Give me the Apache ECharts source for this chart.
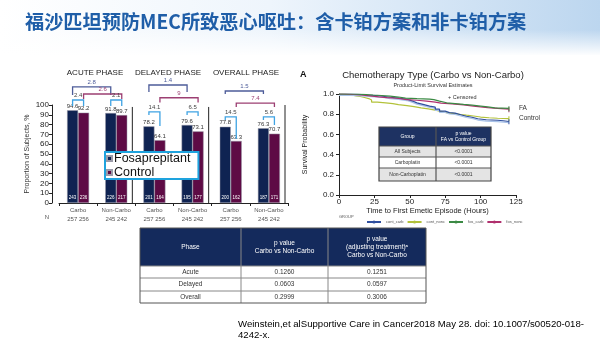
<!DOCTYPE html>
<html><head><meta charset="utf-8">
<script src="https://cdn.jsdelivr.net/npm/echarts@6/dist/echarts.min.js"></script>
<style>html,body{margin:0;padding:0;background:#fff}#c{width:600px;height:338px}</style>
</head><body><div id="c"></div>
<script>
// ---------------- data ----------------
const slideTitle = '福沙匹坦预防MEC所致恶心呕吐：含卡铂方案和非卡铂方案';
const phases = ['ACUTE PHASE', 'DELAYED PHASE', 'OVERALL PHASE'];
const categories = ['Carbo', 'Non-Carbo', 'Carbo', 'Non-Carbo', 'Carbo', 'Non-Carbo'];
const nLabels = ['257 256', '245 242', '257 256', '245 242', '257 256', '245 242'];
const fosaValues = [94.6, 91.8, 78.2, 79.6, 77.8, 76.3];
const controlValues = [92.2, 89.7, 64.1, 73.1, 63.3, 70.7];
const fosaCounts = [243, 226, 201, 195, 200, 187];
const controlCounts = [236, 217, 164, 177, 162, 171];
const fosaDiffs = ['2.8', '1.4', '1.5'];
const controlDiffs = ['2.6', '9', '7.4'];
const withinDiffs = ['2.4', '2.1', '14.1', '6.5', '14.5', '5.6'];
const barTicks = [0, 10, 20, 30, 40, 50, 60, 70, 80, 90, 100];

const kmContNonc = [[0,1],[3,0.995],[6,0.99],[9,0.98],[12,0.975],[15,0.965],[18,0.955],[21,0.94],[23,0.92],[27,0.912],[33,0.905],[38,0.895],[42,0.885],[48,0.875],[53,0.862],[58,0.852],[63,0.84],[68,0.83],[71,0.815],[76,0.805],[82,0.797],[86,0.79],[90,0.782],[95,0.772],[100,0.765],[106,0.76],[112,0.757],[120,0.755]];
const kmContCarb = [[0,1],[8,0.997],[14,0.99],[20,0.985],[26,0.978],[31,0.968],[36,0.96],[42,0.948],[48,0.93],[52,0.912],[55,0.895],[60,0.88],[64,0.87],[68,0.85],[71,0.83],[75,0.815],[78,0.81],[82,0.795],[86,0.78],[90,0.77],[94,0.755],[98,0.745],[104,0.74],[112,0.735],[116,0.728],[120,0.725]];
const kmFosCarb = [[0,1],[10,0.997],[17,0.99],[24,0.985],[30,0.978],[36,0.97],[42,0.96],[47,0.955],[55,0.95],[64,0.945],[67,0.93],[71,0.913],[76,0.905],[82,0.897],[88,0.89],[94,0.88],[100,0.872],[105,0.863],[110,0.858],[120,0.855]];
const kmFosNonc = [[0,1],[5,0.995],[10,0.99],[16,0.982],[22,0.972],[28,0.965],[34,0.958],[41,0.945],[48,0.938],[55,0.93],[62,0.92],[68,0.91],[72,0.902],[80,0.893],[88,0.88],[95,0.872],[100,0.865],[105,0.857],[112,0.85],[120,0.845]];
const kmXTicks = [0, 25, 50, 75, 100, 125];
const kmYTicks = [0, 0.2, 0.4, 0.6, 0.8, 1.0];

const kmGroups = ['All Subjects', 'Carboplatin', 'Non-Carboplatin'];
const kmPValues = ['<0.0001', '<0.0001', '<0.0001'];

const phaseRows = ['Acute', 'Delayed', 'Overall'];
const pCarbo = ['0.1260', '0.0603', '0.2999'];
const pAdjusted = ['0.1251', '0.0597', '0.3006'];
const citation1 = 'Weinstein,et alSupportive Care in Cancer2018 May 28. doi: 10.1007/s00520-018-';
const citation2 = '4242-x.';

// ---------------- layout for annotations (data-unit levels) ----------------
const fosaBracketTop = [118.4, 120.4, 114.3];
const fosaBracketFoot = [110.2, 113.3, 111.2];
const ctrlBracketTop = [111.2, 107.4, 102];
const ctrlBracketFoot = [106.1, 102.6, 98];
const withinTop = [105.1, 105.1, 92.9, 92.9, 87.8, 87.8];
const withinFootL = [99, 99, 89.8, 89.8, 84.7, 84.7];
const withinFootR = [99, 99, 78.6, 88.8, 65.3, 79.6];

const BAR_W = 11;
const NAVY = '#0f2352', MAROON = '#5e0b45';
const FONT = 'Liberation Sans, Arial, sans-serif';

function barX(api, cat, side) { return api.coord([cat, 0])[0] + side * BAR_W / 2; }
function bracketGroup(api, x1, x2, top, footL, footR, color, label, textColor) {
  const pt = api.coord([0, top])[1];
  const pl = api.coord([0, footL])[1];
  const pr = api.coord([0, footR])[1];
  return { type: 'group', children: [
    { type: 'polyline', shape: { points: [[x1, pl], [x1, pt], [x2, pt], [x2, pr]] },
      style: { stroke: color, lineWidth: 1.3, fill: null } },
    { type: 'text', style: { x: (x1 + x2) / 2, y: pt - 1.5, text: label, fill: textColor,
      fontSize: 6, fontFamily: FONT, align: 'center', verticalAlign: 'bottom' } }
  ]};
}

// ---------------- tables (graphic) ----------------
function makeTable(cols, rows, header, body, opt) {
  const els = [];
  const x0 = cols[0], x1 = cols[cols.length - 1];
  els.push({ type: 'rect', shape: { x: x0, y: rows[0], width: x1 - x0, height: rows[1] - rows[0] },
    style: { fill: opt.headFill } });
  for (let r = 0; r < body.length; r++) {
    els.push({ type: 'rect', shape: { x: x0, y: rows[r + 1], width: x1 - x0, height: rows[r + 2] - rows[r + 1] },
      style: { fill: opt.rowFills[r % opt.rowFills.length] } });
  }
  for (let c = 0; c < header.length; c++) {
    els.push({ type: 'text', style: { x: (cols[c] + cols[c + 1]) / 2, y: (rows[0] + rows[1]) / 2, text: header[c],
      fill: '#fff', fontSize: opt.fontSize, lineHeight: opt.fontSize + 1.5, fontFamily: FONT, align: 'center', verticalAlign: 'middle' } });
  }
  for (let r = 0; r < body.length; r++) for (let c = 0; c < body[r].length; c++) {
    els.push({ type: 'text', style: { x: (cols[c] + cols[c + 1]) / 2, y: (rows[r + 1] + rows[r + 2]) / 2, text: body[r][c],
      fill: '#333', fontSize: opt.fontSize, fontFamily: FONT, align: 'center', verticalAlign: 'middle' } });
  }
  for (let r = 1; r < rows.length - 1; r++) {
    els.push({ type: 'line', shape: { x1: x0, y1: rows[r], x2: x1, y2: rows[r] }, style: { stroke: opt.lineColor, lineWidth: opt.lineWidth } });
  }
  for (let c = 1; c < cols.length - 1; c++) {
    els.push({ type: 'line', shape: { x1: cols[c], y1: rows[0], x2: cols[c], y2: rows[rows.length - 1] }, style: { stroke: opt.lineColor, lineWidth: opt.lineWidth } });
  }
  els.push({ type: 'rect', shape: { x: x0, y: rows[0], width: x1 - x0, height: rows[rows.length - 1] - rows[0] },
    style: { fill: null, stroke: opt.borderColor, lineWidth: opt.lineWidth } });
  return { type: 'group', z: 50, children: els };
}

const bottomTable = makeTable([140, 241, 328, 426], [228, 266, 278, 291, 303],
  ['Phase', 'p value\nCarbo vs Non-Carbo', 'p value\n(adjusting treatment)ᵃ\nCarbo vs Non-Carbo'],
  phaseRows.map((p, i) => [p, pCarbo[i], pAdjusted[i]]),
  { headFill: '#142a5c', rowFills: ['#fff'], fontSize: 6.5, lineColor: '#888', borderColor: '#555', lineWidth: 1 });

const kmTable = makeTable([379, 436, 491], [127, 146, 157, 168, 181],
  ['Group', 'p value\nFA vs Control Group'],
  kmGroups.map((g, i) => [g, kmPValues[i]]),
  { headFill: '#1e3262', rowFills: ['#e4e4e4', '#fff'], fontSize: 5, lineColor: '#555', borderColor: '#444', lineWidth: 1.2 });

function kmData(arr) {
  return arr.map((p, i) => i === arr.length - 1 ? { value: p, symbol: 'rect', symbolSize: [1, 5] } : { value: p });
}

const chart = echarts.init(document.getElementById('c'));
chart.setOption({
  animation: false,
  textStyle: { fontFamily: FONT },
  grid: [
    { left: 59, right: 312, top: 105, bottom: 135 },
    { left: 339, right: 84, top: 94, bottom: 143 }
  ],
  legend: [
    { data: ['Fosaprepitant', 'Control'], orient: 'vertical', left: 105, top: 152, selectedMode: false,
      backgroundColor: '#fff', borderColor: '#1ea3de', borderWidth: 2, borderRadius: 0, padding: [0, 8, 0, 1],
      itemWidth: 5, itemHeight: 5, itemGap: 1, icon: 'rect', z: 20,
      textStyle: { fontSize: 12.5, color: '#111', lineHeight: 12, padding: [0, 0, 0, -3] } },
    { data: ['cont_carb', 'cont_nonc', 'fos_carb', 'fos_nonc'], left: 361, top: 215, selectedMode: false,
      itemWidth: 14, itemHeight: 4, itemGap: 3, textStyle: { fontSize: 4, color: '#555' } }
  ],
  xAxis: [
    { type: 'category', gridIndex: 0, data: categories,
      axisLine: { lineStyle: { color: '#222', width: 1 } },
      axisTick: { show: true, length: 3, lineStyle: { color: '#222' } },
      axisLabel: { fontSize: 6, color: '#555', lineHeight: 9, margin: 3, interval: 0,
        formatter: (v, i) => v + '\n' + nLabels[i] } },
    { type: 'value', gridIndex: 1, min: kmXTicks[0], max: kmXTicks[kmXTicks.length - 1], interval: 25,
      splitLine: { show: false },
      axisLine: { show: true, lineStyle: { color: '#222' } },
      axisTick: { show: true, length: 3, lineStyle: { color: '#222' } },
      axisLabel: { fontSize: 8, color: '#222', margin: 3 },
      name: 'Time to First Emetic Episode (Hours)', nameLocation: 'middle', nameGap: 11,
      nameTextStyle: { fontSize: 7.5, color: '#222' } }
  ],
  yAxis: [
    { type: 'value', gridIndex: 0, min: barTicks[0], max: barTicks[barTicks.length - 1], interval: 10, offset: 7,
      splitLine: { show: false },
      axisLine: { show: true, lineStyle: { color: '#222' } },
      axisTick: { show: true, length: 3, lineStyle: { color: '#222' } },
      axisLabel: { fontSize: 8, color: '#222', margin: 3 },
      name: 'Proportion of Subjects, %', nameLocation: 'middle', nameGap: 21, nameRotate: 90,
      nameTextStyle: { fontSize: 7, color: '#333' } },
    { type: 'value', gridIndex: 1, min: kmYTicks[0], max: kmYTicks[kmYTicks.length - 1], interval: 0.2,
      splitLine: { show: false },
      axisLine: { show: true, lineStyle: { color: '#222' } },
      axisTick: { show: true, length: 3, lineStyle: { color: '#222' } },
      axisLabel: { fontSize: 8, color: '#222', margin: 5, formatter: v => v.toFixed(1) },
      name: 'Survival Probability', nameLocation: 'middle', nameGap: 30, nameRotate: 90,
      nameTextStyle: { fontSize: 7, color: '#222' } }
  ],
  title: [
    { text: slideTitle, left: 25, top: 12, padding: 0, textStyle: { fontSize: 19.2, fontWeight: 'bold', color: '#1f5ea8', fontFamily: 'Noto Sans CJK SC' } },
    { text: 'A', left: 300, top: 70, padding: 0, textStyle: { fontSize: 9, fontWeight: 'bold', color: '#111' } },
    { text: 'Chemotherapy Type (Carbo vs Non-Carbo)', left: 433, textAlign: 'center', top: 70, padding: 0, textStyle: { fontSize: 9.5, fontWeight: 'normal', color: '#222' } },
    { text: 'Product-Limit Survival Estimates', left: 433, textAlign: 'center', top: 82, padding: 0, textStyle: { fontSize: 5.5, fontWeight: 'normal', color: '#333' } }
  ].concat(phases.map((p, i) => ({ text: p, left: [95, 168, 246][i], textAlign: 'center', top: 69, padding: 0,
      textStyle: { fontSize: 8, fontWeight: 'normal', color: '#222' } }))),
  graphic: [
    { type: 'rect', z: -10, shape: { x: 0, y: 0, width: 600, height: 55 },
      style: { fill: new echarts.graphic.LinearGradient(0, 0, 1, 0, [
        { offset: 0, color: '#ffffff' }, { offset: 0.45, color: '#eef5fc' }, { offset: 1, color: '#bcd6ef' }]) } },
    { type: 'rect', z: -9, shape: { x: 0, y: 30, width: 600, height: 26 },
      style: { fill: new echarts.graphic.LinearGradient(0, 0, 0, 1, [
        { offset: 0, color: 'rgba(255,255,255,0)' }, { offset: 1, color: '#ffffff' }]) } },
    { type: 'text', x: 47, y: 217, style: { text: 'N', fontSize: 6, fill: '#555', align: 'center', verticalAlign: 'middle', fontFamily: FONT } },
    { type: 'text', x: 448, y: 97, style: { text: '+ Censored', fontSize: 5.5, fill: '#333', verticalAlign: 'middle', fontFamily: FONT } },
    { type: 'text', x: 519, y: 108, style: { text: 'FA', fontSize: 6.5, fill: '#333', verticalAlign: 'middle', fontFamily: FONT } },
    { type: 'text', x: 519, y: 118, style: { text: 'Control', fontSize: 6.5, fill: '#333', verticalAlign: 'middle', fontFamily: FONT } },
    { type: 'text', x: 339, y: 217, style: { text: 'GROUP', fontSize: 4, fill: '#555', verticalAlign: 'middle', fontFamily: FONT } },
    kmTable,
    bottomTable,
    { type: 'text', x: 238, y: 330, style: { text: citation1 + '\n' + citation2, fontSize: 9.6, lineHeight: 10.5, fill: '#000',
      fontFamily: FONT, verticalAlign: 'middle' } }
  ],
  series: [
    { type: 'bar', name: 'Fosaprepitant', xAxisIndex: 0, yAxisIndex: 0, data: fosaValues, barWidth: BAR_W, barGap: '0%',
      itemStyle: { color: NAVY, borderColor: '#9a9aa8', borderWidth: 0.5 },
      label: { show: true, position: 'top', distance: 1, fontSize: 6, color: '#333' } },
    { type: 'bar', name: 'Control', xAxisIndex: 0, yAxisIndex: 0, data: controlValues, barWidth: BAR_W, barGap: '0%',
      itemStyle: { color: MAROON, borderColor: '#9a9aa8', borderWidth: 0.5 },
      label: { show: true, position: 'top', distance: 1, fontSize: 6, color: '#333' } },
    // counts inside bars
    { type: 'custom', xAxisIndex: 0, yAxisIndex: 0, silent: true, clip: false, z: 6,
      data: fosaCounts.map((c, i) => [i, 0]),
      renderItem: (params, api) => {
        const i = params.dataIndex; const y = api.coord([i, 0])[1] - 5;
        return { type: 'group', children: [
          { type: 'text', style: { x: barX(api, i, -1), y: y, text: String(fosaCounts[i]), fill: '#fff', fontSize: 4.5, align: 'center', verticalAlign: 'middle', fontFamily: FONT } },
          { type: 'text', style: { x: barX(api, i, 1), y: y, text: String(controlCounts[i]), fill: '#fff', fontSize: 4.5, align: 'center', verticalAlign: 'middle', fontFamily: FONT } }
        ]};
      } },
    // phase separators
    { type: 'custom', xAxisIndex: 0, yAxisIndex: 0, silent: true, clip: false, z: 3,
      data: [[1, 98], [3, 98], [5, 100]],
      renderItem: (params, api) => {
        const cat = api.value(0), top = api.value(1);
        const x = api.coord([cat, 0])[0] + api.size([1, 0])[0] / 2 - 3;
        return { type: 'line', shape: { x1: x, y1: api.coord([cat, top])[1], x2: x, y2: api.coord([cat, 0])[1] },
          style: { stroke: '#222', lineWidth: 1 } };
      } },
    // fosaprepitant carbo vs non-carbo brackets
    { type: 'custom', xAxisIndex: 0, yAxisIndex: 0, silent: true, clip: false, z: 5,
      data: fosaDiffs.map((d, i) => [2 * i, fosaBracketTop[i]]),
      renderItem: (params, api) => {
        const i = params.dataIndex;
        return bracketGroup(api, barX(api, 2 * i, -1), barX(api, 2 * i + 1, -1), fosaBracketTop[i], fosaBracketFoot[i], fosaBracketFoot[i], '#4d5c99', fosaDiffs[i], '#4d5c99');
      } },
    // control carbo vs non-carbo brackets
    { type: 'custom', xAxisIndex: 0, yAxisIndex: 0, silent: true, clip: false, z: 5,
      data: controlDiffs.map((d, i) => [2 * i, ctrlBracketTop[i]]),
      renderItem: (params, api) => {
        const i = params.dataIndex;
        return bracketGroup(api, barX(api, 2 * i, 1), barX(api, 2 * i + 1, 1), ctrlBracketTop[i], ctrlBracketFoot[i], ctrlBracketFoot[i], '#9c3f72', controlDiffs[i], '#9c3f72');
      } },
    // fosa vs control within-category brackets
    { type: 'custom', xAxisIndex: 0, yAxisIndex: 0, silent: true, clip: false, z: 5,
      data: withinDiffs.map((d, i) => [i, withinTop[i]]),
      renderItem: (params, api) => {
        const i = params.dataIndex;
        return bracketGroup(api, barX(api, i, -1), barX(api, i, 1), withinTop[i], withinFootL[i], withinFootR[i], '#3fa3e3', withinDiffs[i], '#444');
      } },
    // KM curves
    { type: 'line', name: 'cont_nonc', xAxisIndex: 1, yAxisIndex: 1, step: 'end', symbol: 'none', showSymbol: true,
      data: kmData(kmContNonc), color: '#b3c23a', lineStyle: { width: 1.2, color: '#b3c23a' } },
    { type: 'line', name: 'cont_carb', xAxisIndex: 1, yAxisIndex: 1, step: 'end', symbol: 'none', showSymbol: true,
      data: kmData(kmContCarb), color: '#2f4f9f',
      lineStyle: { width: 1.2, color: '#2f4f9f', shadowColor: '#a9c3e8', shadowOffsetY: 1.3, shadowBlur: 0 } },
    { type: 'line', name: 'fos_nonc', xAxisIndex: 1, yAxisIndex: 1, step: 'end', symbol: 'none', showSymbol: true,
      data: kmData(kmFosNonc), color: '#b0306e', lineStyle: { width: 1.2, color: '#b0306e' } },
    { type: 'line', name: 'fos_carb', xAxisIndex: 1, yAxisIndex: 1, step: 'end', symbol: 'none', showSymbol: true,
      data: kmData(kmFosCarb), color: '#3b8a44', lineStyle: { width: 1.2, color: '#3b8a44' } }
  ]
});
</script></body></html>
